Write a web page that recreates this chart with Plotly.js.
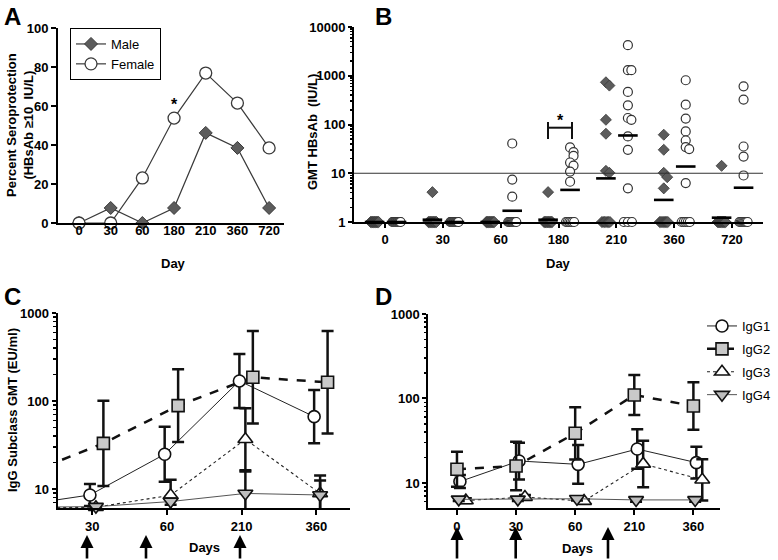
<!DOCTYPE html>
<html><head><meta charset="utf-8">
<script src="https://cdn.plot.ly/plotly-3.0.1.min.js"></script>
<style>html,body{margin:0;padding:0;background:#fff;} #chart{width:778px;height:560px;}</style>
</head><body><div id="chart"></div>
<script>
// ---------- Panel A: percent seroprotection ----------
const daysA = ['0','30','60','180','210','360','720'];
const malePct   = [0, 7.7, 0, 7.7, 46.2, 38.5, 7.7];
const femalePct = [0, 0, 23.1, 53.8, 76.9, 61.5, 38.5];

// ---------- Panel B: individual HBsAb titers (IU/L) ----------
const daysB = ['0','30','60','180','210','360','720'];
const maleD0   = [1,1,1,1,1,1,1,1,1,1,1,1,1];
const maleD30  = [4.1,1,1,1,1,1,1,1,1,1,1,1,1];
const maleD60  = [1,1,1,1,1,1,1,1,1,1,1,1,1];
const maleD180 = [4.1,1,1,1,1,1,1,1,1,1,1,1,1];
const maleD210 = [735,629,125,64.7,11.2,10.2,1,1,1,1,1,1,1];
const maleD360 = [61.7,30.3,10.2,8.3,4.9,1,1,1,1,1,1,1,1];
const maleD720 = [14.2,1,1,1,1,1,1,1,1,1,1,1,1];
const femaleD0   = [1,1,1,1,1,1,1,1,1,1,1,1,1];
const femaleD30  = [1,1,1,1,1,1,1,1,1,1,1,1,1];
const femaleD60  = [40.8,7.4,3.3,1,1,1,1,1,1,1,1,1,1];
const femaleD180 = [33.8,27.2,22.8,16.6,14.4,10.8,6.7,1,1,1,1,1,1];
const femaleD210 = [4245,1300,1300,466,247,136,125,57,30.3,4.9,1,1,1];
const femaleD360 = [808,255,132,72,47,34.4,31.3,6.3,1,1,1,1,1];
const femaleD720 = [608,324,35.4,22,9,1,1,1,1,1,1,1,1];
const maleTiters = [maleD0,maleD30,maleD60,maleD180,maleD210,maleD360,maleD720];
const femaleTiters = [femaleD0,femaleD30,femaleD60,femaleD180,femaleD210,femaleD360,femaleD720];

// ---------- Panels C & D: IgG subclass GMT (EU/ml) with 95% CI ----------
const daysCD = ['0','30','60','210','360'];
const seriesNames = ['IgG1','IgG2','IgG3','IgG4'];
const cIgG1 = [6.4, 8.55, 24.8, 169, 66.4];  const cIgG1Hi = [7.2, 11.4, 51, 342, 133];   const cIgG1Lo = [5.7, 6.4, 12.1, 83.5, 33.1];
const cIgG2 = [15.2, 33.0, 88.5, 186, 163];  const cIgG2Hi = [30, 100.7, 229, 624, 624];  const cIgG2Lo = [7.7, 10.8, 34.2, 55.4, 42.6];
const cIgG3 = [6.1, 6.2, 8.5, 36.7, 8.9];    const cIgG3Hi = [6.5, 6.7, 12.7, 82.6, 14.2];const cIgG3Lo = [5.7, 5.8, 5.7, 16.3, 5.6];
const cIgG4 = [6.2, 6.3, 7.2, 8.9, 8.55];    const cIgG4Hi = [6.5, 6.6, 7.8, 15.8, 12.5]; const cIgG4Lo = [5.9, 5.9, 6.6, 5.0, 5.8];
const dIgG1 = [10.4, 18.2, 16.6, 25.2, 17.4]; const dIgG1Hi = [12.4, 30, 28.2, 43.2, 26.9]; const dIgG1Lo = [8.7, 11.0, 9.8, 14.7, 11.3];
const dIgG2 = [14.5, 15.9, 38.7, 110, 81.5];  const dIgG2Hi = [23.4, 30.8, 78.7, 190, 156]; const dIgG2Lo = [9.0, 8.2, 19.0, 63.7, 42.6];
const dIgG3 = [6.2, 6.8, 6.1, 16.8, 10.9];    const dIgG3Hi = [6.6, 7.2, 6.4, 31.6, 19.1];  const dIgG3Lo = [5.8, 6.4, 5.8, 8.9, 6.2];
const dIgG4 = [6.4, 6.4, 6.5, 6.3, 6.3];      const dIgG4Hi = [6.7, 6.7, 6.8, 6.6, 6.6];    const dIgG4Lo = [6.1, 6.1, 6.2, 6.0, 6.0];

// ---------- helpers ----------
const W = 778, H = 560;
const PX = x => x / W, PY = y => 1 - y / H;
const F = 'Liberation Sans, Arial, sans-serif';
const idx = arr => arr.map((_, i) => i);

function gmean(v) { return Math.exp(v.reduce((s, a) => s + Math.log(a), 0) / v.length); }
function swarm(vals, center) {
  const ones = vals.filter(v => v === 1).length;
  let k = 0; const placed = [];
  return vals.map(v => {
    if (v === 1 && ones > 1) { const x = center - 0.07 + 0.14 * k / (ones - 1); k++; return x; }
    const near = placed.filter(p => Math.abs(Math.log10(p) - Math.log10(v)) < 0.1).length;
    placed.push(v);
    if (near === 0) return center;
    return center + (near % 2 ? 1 : -1) * Math.ceil(near / 2) * 0.06;
  });
}

const traces = [];

// Panel A
traces.push({x: idx(daysA), y: malePct, xaxis: 'x', yaxis: 'y', name: 'Male', mode: 'lines+markers',
  line: {color: '#3a3a3a', width: 1.2}, cliponaxis: false, legend: 'legend',
  marker: {symbol: 'diamond', size: 10, color: '#5c5c5c', line: {color: '#3a3a3a', width: 1}}});
traces.push({x: idx(daysA), y: femalePct, xaxis: 'x', yaxis: 'y', name: 'Female', mode: 'lines+markers',
  line: {color: '#3a3a3a', width: 1.2}, cliponaxis: false, legend: 'legend',
  marker: {symbol: 'circle', size: 12, color: '#fff', line: {color: '#3a3a3a', width: 1.3}}});

// Panel B
const maleOff = -0.18, femaleOff = 0.2;
let mx = [], my = [], fx = [], fy = [], bx = [], by = [];
maleTiters.forEach((v, i) => { mx = mx.concat(swarm(v, i + maleOff)); my = my.concat(v); bx.push(i + maleOff); by.push(gmean(v)); });
femaleTiters.forEach((v, i) => { fx = fx.concat(swarm(v, i + femaleOff)); fy = fy.concat(v); bx.push(i + femaleOff); by.push(gmean(v)); });
traces.push({x: mx, y: my, xaxis: 'x2', yaxis: 'y2', mode: 'markers', showlegend: false, cliponaxis: false,
  marker: {symbol: 'diamond', size: 8.5, color: '#5c5c5c', line: {color: '#3a3a3a', width: 0.8}}});
traces.push({x: fx, y: fy, xaxis: 'x2', yaxis: 'y2', mode: 'markers', showlegend: false, cliponaxis: false,
  marker: {symbol: 'circle', size: 9, color: '#fff', line: {color: '#333', width: 1.2}}});
traces.push({x: bx, y: by, xaxis: 'x2', yaxis: 'y2', mode: 'markers', showlegend: false, cliponaxis: false,
  marker: {symbol: 'line-ew', size: 14, color: '#000', line: {color: '#000', width: 2.6}}});

// Panels C & D
const styles = [
  {symbol: 'circle', size: 12, fill: '#fff', dash: 'solid', lw: 1, lc: '#222'},
  {symbol: 'square', size: 12, fill: '#c9c9c9', dash: 'dash', lw: 2.5, lc: '#111'},
  {symbol: 'triangle-up', size: 13, fill: '#fff', dash: 'dot', lw: 1.1, lc: '#222'},
  {symbol: 'triangle-down', size: 13, fill: '#bdbdbd', dash: 'solid', lw: 1, lc: '#555'}
];
const cMeans = [cIgG1, cIgG2, cIgG3, cIgG4], cHi = [cIgG1Hi, cIgG2Hi, cIgG3Hi, cIgG4Hi], cLo = [cIgG1Lo, cIgG2Lo, cIgG3Lo, cIgG4Lo];
const dMeans = [dIgG1, dIgG2, dIgG3, dIgG4], dHi = [dIgG1Hi, dIgG2Hi, dIgG3Hi, dIgG4Hi], dLo = [dIgG1Lo, dIgG2Lo, dIgG3Lo, dIgG4Lo];
const cOff = [-0.03, 0.15, 0.05, 0.05], dOff = [0.05, 0.0, 0.15, 0.03];
const cRange = [0.536, 4.45], dRange = [-0.485, 4.45];

function errObj(m, hi, lo) {
  return {type: 'data', symmetric: false, array: hi.map((h, i) => h - m[i]), arrayminus: lo.map((l, i) => m[i] - l),
    color: '#111', thickness: 2.5, width: 6};
}
// C: lines (clipped at left edge), then markers with CI
seriesNames.forEach((n, s) => {
  const st = styles[s];
  traces.push({x: idx(daysCD).map(i => i + cOff[s]), y: cMeans[s], xaxis: 'x3', yaxis: 'y3', mode: 'lines', showlegend: false,
    line: {color: st.lc, width: st.lw, dash: st.dash}});
});
seriesNames.forEach((n, s) => {
  const st = styles[s];
  const keep = idx(daysCD).filter(i => i + cOff[s] >= cRange[0]);
  const m = keep.map(i => cMeans[s][i]);
  traces.push({x: keep.map(i => i + cOff[s]), y: m, xaxis: 'x3', yaxis: 'y3', mode: 'markers', showlegend: false, cliponaxis: false,
    error_y: errObj(m, keep.map(i => cHi[s][i]), keep.map(i => cLo[s][i])),
    marker: {symbol: st.symbol, size: st.size, color: st.fill, line: {color: '#111', width: 1.6}}});
});
// D
seriesNames.forEach((n, s) => {
  const st = styles[s];
  traces.push({x: idx(daysCD).map(i => i + dOff[s]), y: dMeans[s], xaxis: 'x4', yaxis: 'y4', mode: 'lines+markers', name: n,
    legend: 'legend2', legendgroup: n, cliponaxis: false,
    line: {color: st.lc, width: st.lw, dash: st.dash},
    error_y: errObj(dMeans[s], dHi[s], dLo[s]),
    marker: {symbol: st.symbol, size: st.size, color: st.fill, line: {color: '#111', width: 1.6}}});
});

// ---------- axes ----------
const tickF = {family: F, size: 13, color: '#000', weight: 'bold'};
const baseAx = {showline: true, linecolor: '#000', linewidth: 2, showgrid: false, zeroline: false,
  ticks: 'outside', tickwidth: 2, tickcolor: '#000', ticklen: 5, tickfont: tickF, fixedrange: true};
function minorVals(d0, d1) { const v = []; for (let d = d0; d < d1; d++) for (let k = 2; k <= 9; k++) v.push(k * Math.pow(10, d)); return v; }

const layout = {
  width: W, height: H, margin: {l: 0, r: 0, t: 0, b: 0}, paper_bgcolor: '#fff', plot_bgcolor: 'rgba(0,0,0,0)',
  font: {family: F, color: '#000'},
  xaxis: Object.assign({}, baseAx, {domain: [PX(58), PX(284)], anchor: 'y', range: [-0.663, 6.47],
    tickmode: 'array', tickvals: idx(daysA), ticktext: daysA, ticks: '', ticklabelstandoff: -6}),
  yaxis: Object.assign({}, baseAx, {domain: [PY(223), PY(28)], anchor: 'x', range: [0, 100],
    tickmode: 'array', tickvals: [0, 20, 40, 60, 80, 100]}),
  xaxis2: Object.assign({}, baseAx, {domain: [PX(354), PX(763)], anchor: 'y2', range: [-0.536, 6.536],
    tickmode: 'array', tickvals: idx(daysB), ticktext: daysB, ticklen: 4}),
  yaxis2: Object.assign({}, baseAx, {domain: [PY(222), PY(27)], anchor: 'x2', type: 'log', range: [0, 4], ticklen: 4,
    tickmode: 'array', tickvals: [1, 10, 100, 1000, 10000], ticktext: ['1', '10', '100', '1000', '10000'],
    minor: {tickmode: 'array', tickvals: minorVals(0, 4), ticks: 'outside', ticklen: 2.5, tickwidth: 1.5, tickcolor: '#000'}}),
  xaxis3: Object.assign({}, baseAx, {domain: [PX(57.5), PX(350)], anchor: 'y3', range: cRange,
    tickmode: 'array', tickvals: idx(daysCD), ticktext: daysCD}),
  yaxis3: Object.assign({}, baseAx, {domain: [PY(508), PY(313)], anchor: 'x3', type: 'log', range: [Math.log10(6.08), 3], ticklen: 4,
    tickmode: 'array', tickvals: [10, 100, 1000], ticktext: ['10', '100', '1000'],
    minor: {tickmode: 'array', tickvals: minorVals(0, 3), ticks: 'outside', ticklen: 2.5, tickwidth: 1.5, tickcolor: '#000'}}),
  xaxis4: Object.assign({}, baseAx, {domain: [PX(428.3), PX(720)], anchor: 'y4', range: dRange,
    tickmode: 'array', tickvals: idx(daysCD), ticktext: daysCD}),
  yaxis4: Object.assign({}, baseAx, {domain: [PY(508.3), PY(314)], anchor: 'x4', type: 'log', range: [0.70, 3], ticklen: 4,
    tickmode: 'array', tickvals: [10, 100, 1000], ticktext: ['10', '100', '1000'],
    minor: {tickmode: 'array', tickvals: minorVals(0, 3), ticks: 'outside', ticklen: 2.5, tickwidth: 1.5, tickcolor: '#000'}}),
  legend: {x: PX(70), y: PY(28), xanchor: 'left', yanchor: 'top', bordercolor: '#000', borderwidth: 1, bgcolor: '#fff',
    font: {family: F, size: 13, color: '#000'}, itemclick: false},
  legend2: {x: PX(702), y: PY(311), xanchor: 'left', yanchor: 'top', bgcolor: 'rgba(0,0,0,0)', tracegroupgap: 3,
    font: {family: F, size: 13, color: '#000'}, itemclick: false},
  shapes: [
    {type: 'line', xref: 'x2 domain', yref: 'y2', x0: 0, x1: 1, y0: 10, y1: 10, line: {color: '#333', width: 1}},
    {type: 'line', xref: 'paper', yref: 'paper', x0: PX(548), x1: PX(572), y0: PY(127.7), y1: PY(127.7), line: {color: '#111', width: 2}},
    {type: 'line', xref: 'paper', yref: 'paper', x0: PX(548), x1: PX(548), y0: PY(122), y1: PY(139), line: {color: '#111', width: 2}},
    {type: 'line', xref: 'paper', yref: 'paper', x0: PX(572), x1: PX(572), y0: PY(122), y1: PY(139), line: {color: '#111', width: 2}}
  ],
  annotations: []
};

const ann = layout.annotations;
function txt(x, y, t, size, opts) {
  ann.push(Object.assign({xref: 'paper', yref: 'paper', x: PX(x), y: PY(y), text: t, showarrow: false,
    xanchor: 'center', yanchor: 'middle', font: {family: F, size: size, color: '#000', weight: 'bold'}}, opts || {}));
}
// panel letters
txt(13, 1, 'A', 24, {yanchor: 'top'}); txt(383, 1, 'B', 24, {yanchor: 'top'});
txt(13, 281, 'C', 24, {yanchor: 'top'}); txt(383, 281, 'D', 24, {yanchor: 'top'});
// axis titles
txt(20, 125, 'Percent Seroprotection<br>(HBsAb \u226510  IU/L)', 13, {textangle: -90});
txt(173, 263, 'Day', 13);
txt(312, 132, 'GMT HBsAb  (IU/L)', 13, {textangle: -90});
txt(558, 263, 'Day', 13);
txt(12, 410, 'IgG Subclass GMT (EU/ml)', 13, {textangle: -90});
txt(204, 547, 'Days', 13);
txt(577, 548, 'Days', 13);
// significance stars
txt(174, 104, '*', 16);
txt(560, 120, '*', 16);
// vaccination arrows
function arrow(x, yTip, yTail) {
  ann.push({xref: 'paper', yref: 'paper', x: PX(x), y: PY(yTip), ax: 0, ay: yTail - yTip, text: '', showarrow: true,
    arrowhead: 2, arrowsize: 1, arrowwidth: 2.6, arrowcolor: '#000', standoff: 0});
}
[87, 146, 240].forEach(x => arrow(x, 535, 560));
[457, 515.7, 608].forEach(x => arrow(x, 527, 560));

Plotly.newPlot('chart', traces, layout, {staticPlot: true, displayModeBar: false});
</script>
</body></html>
